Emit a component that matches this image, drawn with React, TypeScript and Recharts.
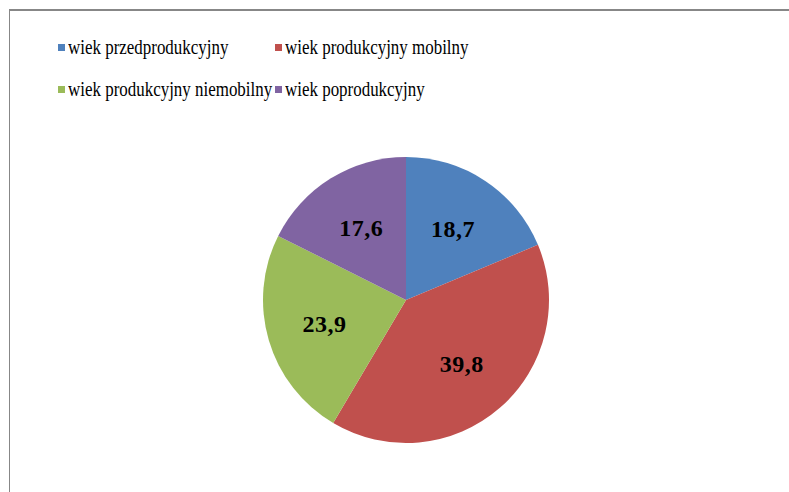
import React from "react";
import { PieChart, Pie, Cell } from "recharts";

const categories = [
  "wiek przedprodukcyjny",
  "wiek produkcyjny mobilny",
  "wiek produkcyjny niemobilny",
  "wiek poprodukcyjny",
];
const values = [18.7, 39.8, 23.9, 17.6];
const colors = ["#4F81BD", "#C0504D", "#9BBB59", "#8064A2"];

const data = categories.map((name, i) => ({ name, value: values[i] }));

const RAD = Math.PI / 180;

const renderLabel = (props: any) => {
  const { cx, cy, midAngle, value } = props;
  const r = 85;
  const x = cx + r * Math.cos(-midAngle * RAD);
  const y = cy + r * Math.sin(-midAngle * RAD);
  return (
    <text
      x={x}
      y={y}
      textAnchor="middle"
      dominantBaseline="central"
      fontFamily="'Liberation Serif', 'Times New Roman', serif"
      fontWeight="bold"
      fontSize={24}
      letterSpacing={0.5}
      fill="#000"
    >
      {String(value).replace(".", ",")}
    </text>
  );
};

const LegendBlock = () => (
  <div style={{ position: "absolute", left: 0, top: 0, width: 789, height: 120 }}>
    {categories.map((name, i) => {
      const col = i % 2;
      const row = Math.floor(i / 2);
      const left = col === 0 ? 58 : 275;
      const top = row === 0 ? 48 : 90;
      return (
        <div key={name}>
          <div
            style={{
              position: "absolute",
              left,
              top: top - 4,
              width: 7,
              height: 7,
              background: colors[i],
            }}
          />
          <div
            style={{
              position: "absolute",
              left: left + 10,
              top: top - 15,
              fontFamily: "'Liberation Serif', 'Times New Roman', serif",
              fontSize: 22,
              lineHeight: "28px",
              color: "#000",
              whiteSpace: "nowrap",
              transform: "scaleX(0.77)",
              transformOrigin: "left center",
            }}
          >
            {name}
          </div>
        </div>
      );
    })}
  </div>
);

export default function App() {
  return (
    <div style={{ position: "relative", width: 789, height: 492, background: "#fff", overflow: "hidden" }}>
      <style>{`body{margin:0;}`}</style>
      <div
        style={{
          position: "absolute",
          left: 9,
          top: 9,
          width: 900,
          height: 600,
          borderTop: "2px solid #878787",
          borderLeft: "1px solid #878787",
        }}
      />
      <div style={{ position: "absolute", left: 0, top: 0 }}>
        <PieChart width={789} height={492} margin={{ top: 0, right: 0, bottom: 0, left: 0 }}>
          <Pie
            data={data}
            dataKey="value"
            nameKey="name"
            cx={406}
            cy={300}
            outerRadius={143}
            startAngle={90}
            endAngle={-270}
            stroke="none"
            label={renderLabel}
            labelLine={false}
            isAnimationActive={false}
          >
            {data.map((d, i) => (
              <Cell key={d.name} fill={colors[i]} />
            ))}
          </Pie>
        </PieChart>
      </div>
      <LegendBlock />
    </div>
  );
}
